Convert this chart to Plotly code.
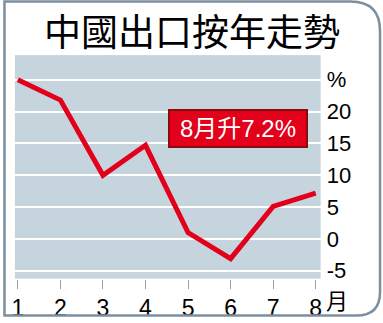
import plotly.graph_objects as go

W, H = 383, 323
months = [1, 2, 3, 4, 5, 6, 7, 8]
month_labels = ["1", "2", "3", "4", "5", "6", "7", "8"]
exports = [25.0, 21.8, 10.0, 14.7, 1.0, -3.1, 5.1, 7.2]
y_ticks = [-5, 0, 5, 10, 15, 20, 25]
y_tick_labels = ["-5", "0", "5", "10", "15", "20", "%"]
title = "中國出口按年走勢"
callout = "8月升7.2%"

def px(x): return x / W
def py(y): return 1 - y / H

fig = go.Figure()
fig.add_trace(go.Scatter(x=months, y=exports, mode="lines",
                         line=dict(color="#e2001a", width=5), hoverinfo="skip"))

# rounded outer border path (paper coords)
x0, x1, y0, y1 = 1.5, 381, 1.5, 320.5
rt, rb = 30, 24
path = (f"M {px(x0)},{py(y0)} L {px(x1-rt)},{py(y0)} "
        f"Q {px(x1)},{py(y0)} {px(x1)},{py(y0+rt)} "
        f"L {px(x1)},{py(y1-rb)} Q {px(x1)},{py(y1)} {px(x1-rb)},{py(y1)} "
        f"L {px(x0)},{py(y1)} Z")

fig.update_layout(
    width=W, height=H,
    margin=dict(l=0, r=0, t=0, b=0),
    paper_bgcolor="white",
    plot_bgcolor="#c6d4de",
    showlegend=False,
    font=dict(family="Liberation Sans, Arial", color="black"),
    xaxis=dict(domain=[px(12), px(321)], range=[0.93, 8.116],
               tickvals=months, ticktext=month_labels,
               ticks="outside", ticklen=9, tickcolor="#9aa0a6", tickwidth=1,
               tickfont=dict(size=23, color="black"),
               showgrid=False, zeroline=False, showline=False, fixedrange=True),
    yaxis=dict(domain=[py(283), py(56)], range=[-6.23, 28.86], side="right",
               tickvals=y_ticks, ticktext=y_tick_labels,
               tickfont=dict(size=22, color="black"), ticklabelstandoff=5,
               showgrid=True, gridcolor="white", gridwidth=2,
               zeroline=False, showline=False, fixedrange=True),
    shapes=[dict(type="path", path=path, xref="paper", yref="paper",
                 line=dict(color="#7b8f9f", width=2.5), fillcolor="rgba(0,0,0,0)",
                 layer="above")],
    annotations=[
        dict(text=title, x=px(191), y=py(30), xref="paper", yref="paper",
             showarrow=False, xanchor="center", yanchor="middle",
             font=dict(family="Noto Sans CJK TC", size=37, color="black")),
        dict(text="月", x=px(338), y=py(304), xref="paper", yref="paper",
             showarrow=False, xanchor="center", yanchor="middle",
             font=dict(family="Noto Sans CJK TC", size=22, color="black")),
        dict(text=callout, x=px(237), y=py(131), xref="paper", yref="paper",
             showarrow=False, xanchor="center", yanchor="middle",
             bgcolor="#e2001a", bordercolor="#8a0c0c", borderwidth=2,
             width=134, height=33,
             font=dict(family="Liberation Sans, Noto Sans CJK TC", size=24, color="white")),
    ],
)
fig.write_html("out.html")
